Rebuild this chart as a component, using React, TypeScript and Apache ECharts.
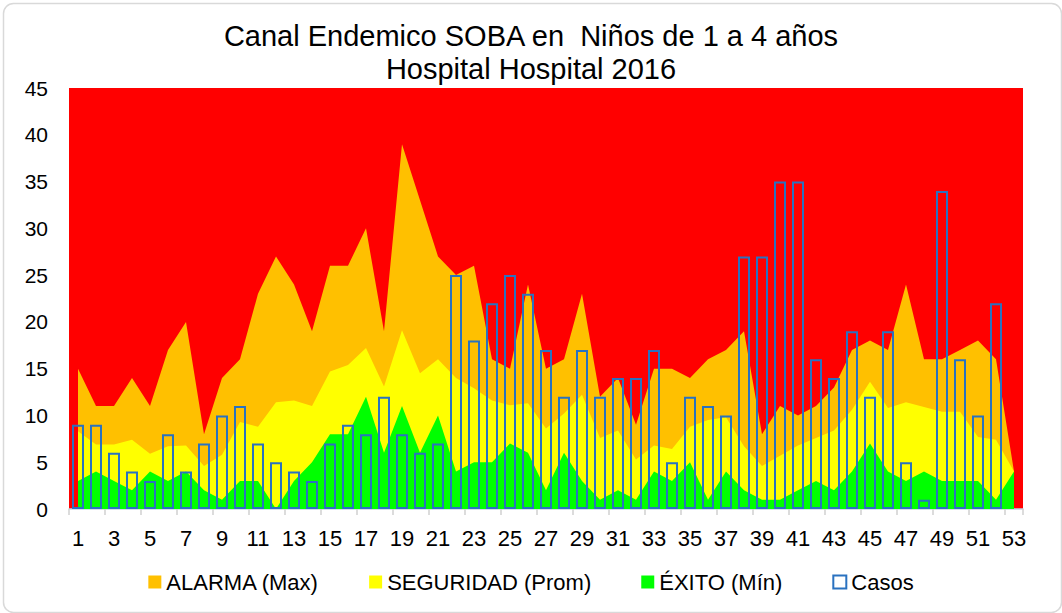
import React, { useEffect, useRef } from "react";
import * as echarts from "echarts";

const weeks: string[] = Array.from({ length: 53 }, (_, i) => String(i + 1));

const alarmaMax: number[] = [
  15, 11, 11, 14, 11, 17, 20, 8, 14, 16, 23, 27, 24, 19, 26, 26, 30, 19, 39, 33,
  27, 25, 26, 16, 15, 24, 15, 16, 23, 12, 14, 9, 15, 15, 14, 16, 17, 19, 8, 11,
  10, 11, 13, 17, 18, 17, 24, 16, 16, 17, 18, 16, 4,
];

const seguridadProm: number[] = [
  8.3, 6.9, 6.9, 7.4, 5.9, 6.7, 6.8, 4.6, 5.8, 9.3, 8.8, 11.4, 11.6, 11.0, 14.7,
  15.4, 17.2, 13.1, 19.1, 14.5, 16.0, 14.0, 12.9, 11.6, 11.1, 11.3, 8.6, 10.2,
  12.2, 7.6, 8.4, 5.3, 6.8, 6.4, 8.8, 9.5, 9.8, 6.7, 4.6, 5.7, 6.8, 7.6, 8.4,
  10.6, 13.6, 10.8, 11.4, 10.9, 10.4, 10.4, 7.7, 7.4, 4.0,
];

const exitoMin: number[] = [
  3, 4, 3, 2, 4, 3, 4, 2, 1, 3, 3, 0, 3, 5, 8, 8, 12, 6, 11, 6, 10, 4, 5, 5, 7,
  6, 2, 6, 3, 1, 2, 1, 4, 3, 5, 1, 4, 2, 1, 1, 2, 3, 2, 4, 7, 4, 3, 4, 3, 3, 3,
  1, 4,
];

const casos: (number | null)[] = [
  9, 9, 6, 4, 3, 8, 4, 7, 10, 11, 7, 5, 4, 3, 7, 9, 8, 12, 8, 6, 7, 25, 18, 22,
  25, 23, 17, 12, 17, 12, 14, 14, 17, 5, 12, 11, 10, 27, 27, 35, 35, 16, 14, 19,
  12, 19, 5, 1, 34, 16, 10, 22, null,
];

const FONT = "'Liberation Sans', Arial, sans-serif";
const C_RED = "#FF0000";
const C_ORANGE = "#FFC000";
const C_YELLOW = "#FFFF00";
const C_GREEN = "#00FF00";
const C_BLUE = "#2A72C0";

export default function App() {
  const ref = useRef<HTMLDivElement>(null);
  useEffect(() => {
    if (!ref.current) return;
    const chart = echarts.init(ref.current, null, { renderer: "svg" });
    const areaSeries = (name: string, data: number[], color: string) => ({
      name,
      type: "line",
      data,
      color,
      symbol: "none",
      showSymbol: false,
      lineStyle: { width: 0, color },
      itemStyle: { color },
      areaStyle: { color, opacity: 1 },
    });
    chart.setOption({
      animation: false,
      textStyle: { fontFamily: FONT },
      title: {
        text: "Canal Endemico SOBA en  Niños de 1 a 4 años\nHospital Hospital 2016",
        left: "center",
        top: 14,
        textStyle: {
          fontFamily: FONT,
          fontSize: 29,
          fontWeight: "normal",
          color: "#000",
          lineHeight: 33,
        },
      },
      graphic: [
        {
          type: "rect",
          left: 1,
          top: 1,
          shape: { width: 1058, height: 609, r: 10 },
          style: { fill: "none", stroke: "#D9D9D9", lineWidth: 1.5 },
          silent: true,
          z: -10,
        },
      ],
      legend: {
        left: "center",
        top: 566,
        itemWidth: 13,
        itemHeight: 13,
        itemGap: 50,
        textStyle: { fontFamily: FONT, fontSize: 22, color: "#000" },
        data: [
          { name: "ALARMA (Max)", icon: "rect", itemStyle: { color: C_ORANGE } },
          { name: "SEGURIDAD (Prom)", icon: "rect", itemStyle: { color: C_YELLOW } },
          { name: "ÉXITO (Mín)", icon: "rect", itemStyle: { color: C_GREEN } },
          {
            name: "Casos",
            icon: "rect",
            itemStyle: { color: "rgba(0,0,0,0)", borderColor: C_BLUE, borderWidth: 2 },
          },
        ],
      },
      grid: {
        left: 69,
        right: 39,
        top: 88,
        bottom: 104,
        show: true,
        backgroundColor: C_RED,
        borderWidth: 0,
      },
      xAxis: {
        type: "category",
        data: weeks,
        boundaryGap: true,
        axisLine: { show: true, lineStyle: { color: "#C5D3E2", width: 1.5 } },
        axisTick: { show: true, length: 6, lineStyle: { color: "#D0D0D0", width: 1.5 } },
        axisLabel: {
          interval: 1,
          fontFamily: FONT,
          fontSize: 22,
          color: "#000",
          margin: 18,
        },
        splitLine: { show: false },
      },
      yAxis: {
        type: "value",
        min: 0,
        max: 45,
        interval: 5,
        axisLine: { show: false },
        axisTick: { show: false },
        splitLine: { show: false },
        axisLabel: { fontFamily: FONT, fontSize: 21, color: "#000", margin: 21 },
      },
      series: [
        areaSeries("ALARMA (Max)", alarmaMax, C_ORANGE),
        areaSeries("SEGURIDAD (Prom)", seguridadProm, C_YELLOW),
        areaSeries("ÉXITO (Mín)", exitoMin, C_GREEN),
        {
          name: "Casos",
          type: "bar",
          data: casos,
          barWidth: 12,
          itemStyle: {
            color: "rgba(0,0,0,0)",
            borderColor: C_BLUE,
            borderWidth: 2,
          },
          z: 3,
        },
      ],
    });
    return () => chart.dispose();
  }, []);
  return (
    <div
      ref={ref}
      style={{ position: "fixed", left: 0, top: 0, width: 1062, height: 613, background: "#fff" }}
    />
  );
}
